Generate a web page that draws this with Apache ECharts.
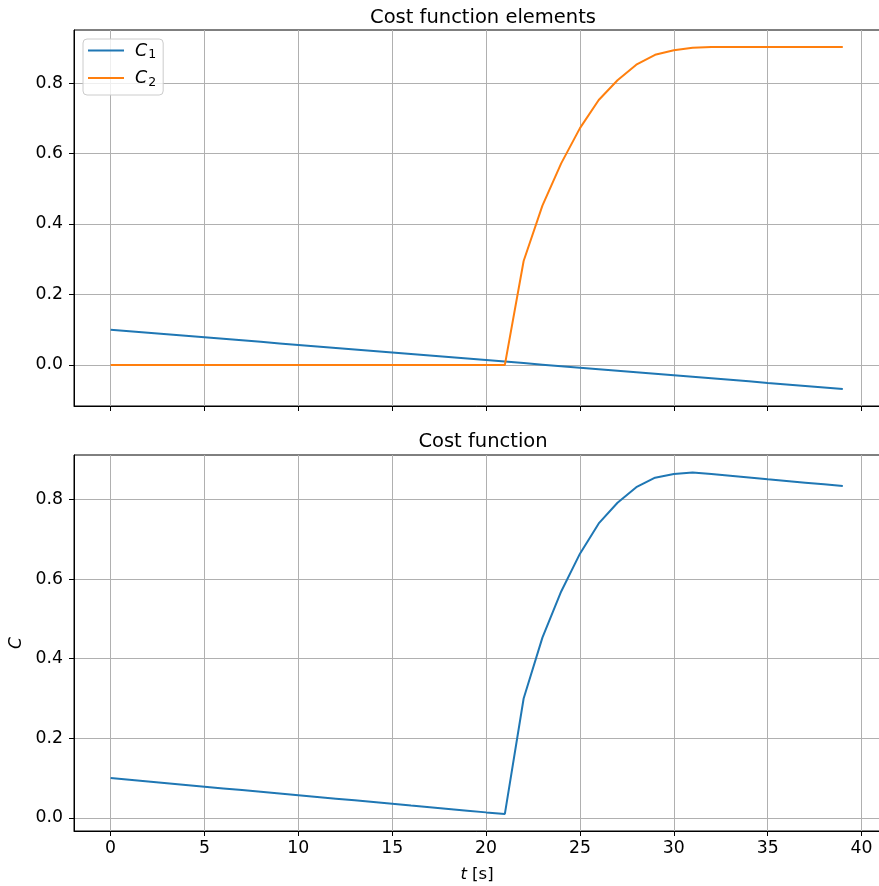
<!DOCTYPE html>
<html>
<head>
<meta charset="utf-8">
<script src="https://cdn.jsdelivr.net/npm/echarts@6/dist/echarts.min.js"></script>
<style>
  html, body { margin: 0; padding: 0; background: #fff; }
  #chart { width: 879px; height: 886px; }
</style>
</head>
<body>
<div id="chart"></div>
<script>
// time samples [s]
const t = [0,1,2,3,4,5,6,7,8,9,10,11,12,13,14,15,16,17,18,19,20,21,22,23,24,25,26,27,28,29,30,31,32,33,34,35,36,37,38,39];

// cost element C1
const c1 = [0.1000,0.0957,0.0914,0.0871,0.0828,0.0785,0.0741,0.0698,0.0655,0.0612,
            0.0569,0.0526,0.0483,0.0440,0.0397,0.0354,0.0310,0.0267,0.0224,0.0181,
            0.0138,0.0095,0.0052,0.0009,-0.0034,-0.0078,-0.0121,-0.0164,-0.0207,-0.0250,
            -0.0293,-0.0336,-0.0379,-0.0422,-0.0465,-0.0509,-0.0552,-0.0595,-0.0638,-0.0681];

// cost element C2
const c2 = [0,0,0,0,0,0,0,0,0,0,
            0,0,0,0,0,0,0,0,0,0,
            0,0,0.295,0.452,0.572,0.672,0.752,0.808,0.852,0.880,
            0.893,0.900,0.902,0.902,0.902,0.902,0.902,0.902,0.902,0.902];

// total cost C
const cTotal = [0.1000,0.0957,0.0914,0.0871,0.0828,0.0785,0.0741,0.0698,0.0655,0.0612,
                0.0569,0.0526,0.0483,0.0440,0.0397,0.0354,0.0310,0.0267,0.0224,0.0181,
                0.0138,0.0100,0.300,0.453,0.569,0.664,0.740,0.792,0.831,0.855,
                0.864,0.868,0.8641,0.8598,0.8555,0.8511,0.8468,0.8425,0.8382,0.8339];

const xTicks = [0,5,10,15,20,25,30,35,40];
const yTicks = [0.0,0.2,0.4,0.6,0.8];

const FONT = 'DejaVu Sans';
const grid = '#b0b0b0';
const TICK_FS = 17.3;
const TITLE_FS = 19.5;

function pairs(ys) { return t.map((x, i) => [x, ys[i]]); }

// the plot area runs past the right edge of the canvas, so no right spine shows
function xAxis(gridIndex, showLabels, extra) {
  return Object.assign({
    type: 'value', gridIndex: gridIndex,
    min: -1.95, max: 42.26,
    axisLine: { show: true, onZero: false, lineStyle: { color: '#000', width: 1 } },
    axisTick: { show: true, inside: false, length: 5, customValues: xTicks, lineStyle: { color: '#000' } },
    axisLabel: { show: showLabels, customValues: xTicks, color: '#000', fontFamily: FONT, fontSize: TICK_FS, margin: 9,
                 formatter: v => String(Math.round(v)) },
    splitLine: { show: true, lineStyle: { color: grid, width: 1 } }
  }, extra || {});
}

function yAxis(gridIndex, min, max, extra) {
  return Object.assign({
    type: 'value', gridIndex: gridIndex,
    min: min, max: max,
    axisLine: { show: true, onZero: false, lineStyle: { color: '#000', width: 1 } },
    axisTick: { show: true, inside: false, length: 5, customValues: yTicks, lineStyle: { color: '#000' } },
    axisLabel: { customValues: yTicks, color: '#000', fontFamily: FONT, fontSize: TICK_FS, margin: 11,
                 formatter: v => v.toFixed(1) },
    splitLine: { show: true, lineStyle: { color: grid, width: 1 } }
  }, extra || {});
}

const chart = echarts.init(document.getElementById('chart'), null, { renderer: 'canvas' });

chart.setOption({
  animation: false,
  backgroundColor: '#fff',
  title: [
    { text: 'Cost function elements', left: 478, top: 3, textAlign: 'center',
      textStyle: { fontFamily: FONT, fontSize: TITLE_FS, fontWeight: 'normal', color: '#000' } },
    { text: 'Cost function', left: 478, top: 427, textAlign: 'center',
      textStyle: { fontFamily: FONT, fontSize: TITLE_FS, fontWeight: 'normal', color: '#000' } }
  ],
  legend: {
    left: 83, top: 39,
    orient: 'vertical',
    padding: [3, 7, 6, 5],
    itemGap: 8,
    itemWidth: 36, itemHeight: 2,
    icon: 'rect',
    backgroundColor: 'rgba(255,255,255,0.8)',
    borderColor: '#cccccc', borderWidth: 1, borderRadius: 4,
    data: ['C1', 'C2'],
    formatter: name => '{i|C}{s|' + name.slice(1) + '}',
    textStyle: {
      color: '#000',
      height: 20,
      rich: {
        i: { fontFamily: FONT, fontStyle: 'italic', fontSize: 17.5, color: '#000', padding: [0, 0, 0, 6] },
        s: { fontFamily: FONT, fontSize: 12.5, color: '#000', verticalAlign: 'bottom', padding: [8, 0, 0, 1] }
      }
    }
  },
  grid: [
    { left: 74, top: 30, width: 830, height: 376, outerBoundsMode: 'none', containLabel: false,
      show: true, borderColor: '#000', borderWidth: 1, backgroundColor: 'transparent' },
    { left: 74, top: 455, width: 830, height: 376, outerBoundsMode: 'none', containLabel: false,
      show: true, borderColor: '#000', borderWidth: 1, backgroundColor: 'transparent' }
  ],
  xAxis: [
    xAxis(0, false),
    xAxis(1, true, {
      name: '{i|t}{n| [s]}', nameLocation: 'middle', nameGap: 35,
      nameTextStyle: {
        padding: [0, 24, 0, 0],
        rich: {
          i: { fontFamily: FONT, fontStyle: 'italic', fontSize: 16.5, color: '#000' },
          n: { fontFamily: FONT, fontSize: 16.5, color: '#000' }
        }
      }
    })
  ],
  yAxis: [
    yAxis(0, -0.1165, 0.9505),
    yAxis(1, -0.033, 0.912, {
      name: 'C', nameLocation: 'middle', nameGap: 47, nameRotate: 90,
      nameTextStyle: { fontFamily: FONT, fontStyle: 'italic', fontSize: 17, color: '#000' }
    })
  ],
  series: [
    { name: 'C1', type: 'line', xAxisIndex: 0, yAxisIndex: 0, data: pairs(c1),
      showSymbol: false, symbol: 'none', color: '#1f77b4', lineStyle: { width: 2, color: '#1f77b4' } },
    { name: 'C2', type: 'line', xAxisIndex: 0, yAxisIndex: 0, data: pairs(c2),
      showSymbol: false, symbol: 'none', color: '#ff7f0e', lineStyle: { width: 2, color: '#ff7f0e' } },
    { name: 'C', type: 'line', xAxisIndex: 1, yAxisIndex: 1, data: pairs(cTotal),
      showSymbol: false, symbol: 'none', color: '#1f77b4', lineStyle: { width: 2, color: '#1f77b4' } }
  ]
});
</script>
</body>
</html>
